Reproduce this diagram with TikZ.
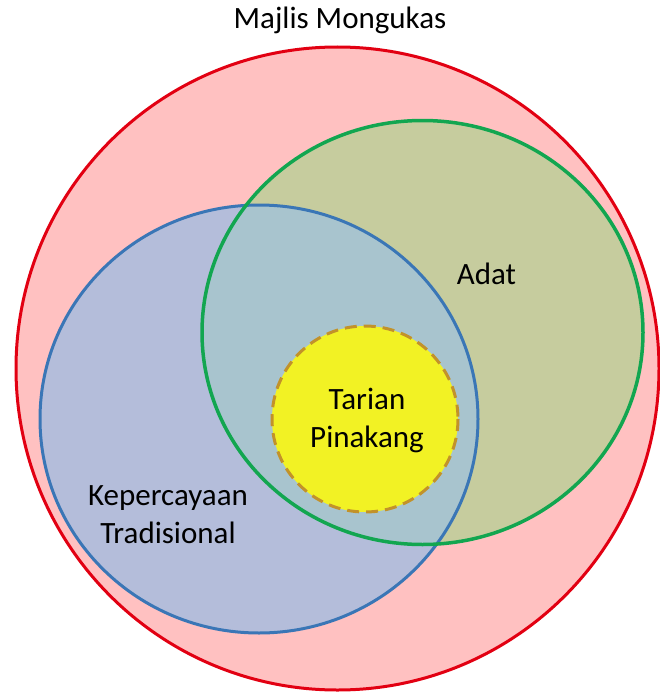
\documentclass[tikz,border=0pt]{standalone}
\usepackage{fontspec}
\setmainfont{Carlito}
\usetikzlibrary{positioning}

\definecolor{pinkfill}{RGB}{255,193,193}
\definecolor{redline}{RGB}{226,0,18}
\definecolor{bluefill}{RGB}{180,189,218}
\definecolor{blueline}{RGB}{58,118,182}
\definecolor{greenfill}{RGB}{198,204,158}
\definecolor{greenline}{RGB}{18,166,80}
\definecolor{bothfill}{RGB}{168,196,206}
\definecolor{yellowfill}{RGB}{242,242,36}
\definecolor{yellowline}{RGB}{194,146,42}

\begin{document}
\begin{tikzpicture} [x=1pt,y=-1pt,line width=3pt,
    every node/.style={font=\fontsize{31}{38}\selectfont,align=center,anchor=base},
    ring/.style={line width=3pt}]
  \useasboundingbox (0,0) rectangle (659,693);

  % Majlis Mongukas
  \fill[pinkfill] (337.5,368.5) circle [radius=321.5];
  % Kepercayaan Tradisional and Adat
  \fill[bluefill] (259,419) ellipse [x radius=219, y radius=214];
  \fill[greenfill] (422.5,332.5) ellipse [x radius=220.5, y radius=212];
  \begin{scope}
    \clip (259,419) ellipse [x radius=219, y radius=214];
    \fill[bothfill] (422.5,332.5) ellipse [x radius=220.5, y radius=212];
  \end{scope}
  \draw[ring,blueline] (259,419) ellipse [x radius=219, y radius=214];
  \draw[ring,greenline,line width=3.5pt] (422.5,332.5) ellipse [x radius=220.5, y radius=212];
  % Tarian Pinakang
  \fill[yellowfill] (365,419) circle [radius=93];
  \draw[ring,yellowline,dash pattern=on 12pt off 7pt] (365,419) circle [radius=93];
  \draw[ring,redline] (337.5,368.5) circle [radius=321.5];

  % base anchor sits on the last line
  \node (majlis) at (340,29) {Majlis Mongukas};
  \node (adat) at (486.5,284) {Adat};
  \node (tarian) at (367,447) {Tarian\\Pinakang};
  \node (kepercayaan) at (168,543) {Kepercayaan\\Tradisional};
\end{tikzpicture}
\end{document}
